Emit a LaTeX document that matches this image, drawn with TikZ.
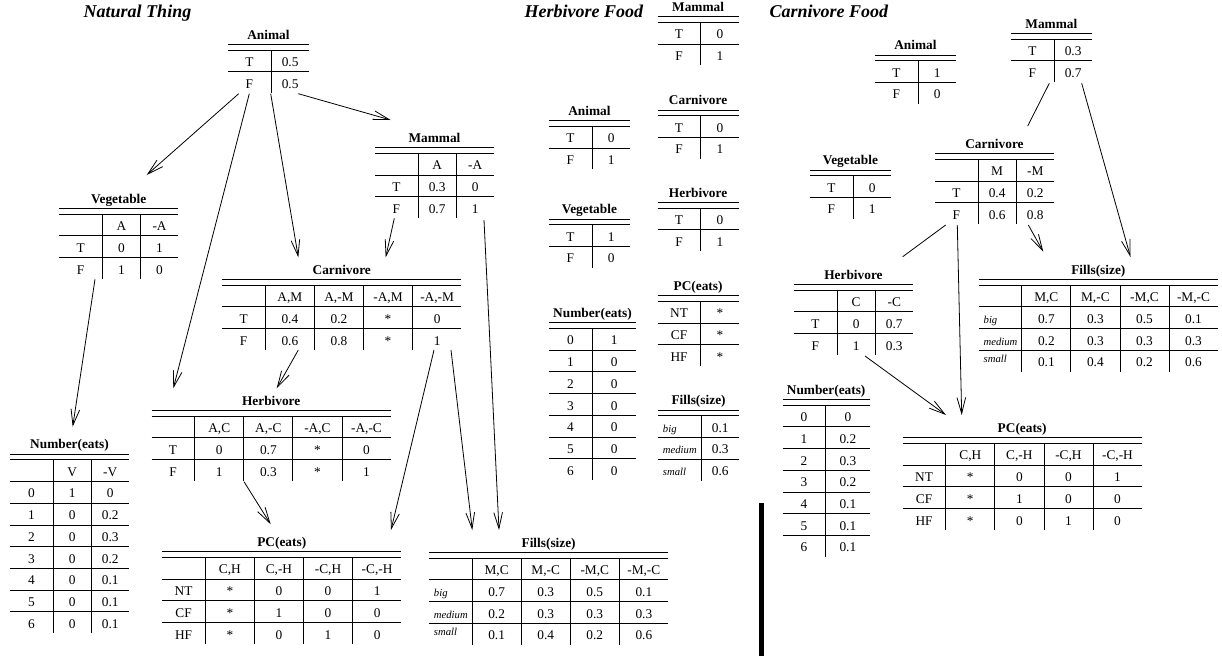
\documentclass[tikz,border=0pt]{standalone}
\usepackage{fontspec}
\setmainfont{Liberation Serif}
\usepackage{array}
\usetikzlibrary{arrows.meta,calc}
\newcolumntype{F}{w{c}{32pt}}
\newcolumntype{N}{w{c}{28pt}}
\newcolumntype{B}{w{c}{36.2pt}}
\newcolumntype{K}{w{c}{32.6pt}}
\newcolumntype{E}{>{\footnotesize\itshape\hspace*{3.5pt}}w{l}{31.8pt}}
\setlength\tabcolsep{0pt}
\setlength\arrayrulewidth{0.6pt}
\setlength\doublerulesep{3.7pt}
\setlength\extrarowheight{3.7pt}
\newcommand\ttl[2]{\multicolumn{#1}{c}{\textbf{#2}}\\\hline\hline}
\begin{document}
\begin{tikzpicture}[x=0.75pt,y=-0.75pt,
  tbl/.style={inner sep=0pt,outer sep=0pt,anchor=north west,font=\fontsize{10}{12}\selectfont},
  head/.style={inner sep=0pt,anchor=base,font=\fontsize{13.5}{16}\selectfont\bfseries\itshape},
  conn/.style={line width=0.6pt},
  arr/.style={conn,-{Straight Barb[length=12pt,width=6.5pt]}}]
\useasboundingbox (0,0) rectangle (1222,658);
% headings
\node[head] (hNT) at (137.5,17.9) {Natural Thing};
\node[head] (hHF) at (583.9,17.9) {Herbivore Food};
\node[head] (hCF) at (828.8,17.9) {Carnivore Food};
% ---------------- Natural Thing
\node[tbl] (ntAnimal) at (228,22.95) {\begin{tabular}{F|N}\ttl{2}{Animal} T & 0.5\\\hline F & 0.5\end{tabular}};
\node[tbl] (ntVeg) at (59.3,186.95) {\begin{tabular}{F|N|N}\ttl{3}{Vegetable} & A & -A\\\hline T & 0 & 1\\\hline F & 1 & 0\end{tabular}};
\node[tbl] (ntMammal) at (375,126.35) {\begin{tabular}{F|N|N}\ttl{3}{Mammal} & A & -A\\\hline T & 0.3 & 0\\\hline F & 0.7 & 1\end{tabular}};
\node[tbl] (ntCarn) at (222.3,257.95) {\begin{tabular}{F|B|B|B|B}\ttl{5}{Carnivore} & A,M & A,-M & -A,M & -A,-M\\\hline T & 0.4 & 0.2 & * & 0\\\hline F & 0.6 & 0.8 & * & 1\end{tabular}};
\node[tbl] (ntHerb) at (151.7,388.95) {\begin{tabular}{F|B|B|B|B}\ttl{5}{Herbivore} & A,C & A,-C & -A,C & -A,-C\\\hline T & 0 & 0.7 & * & 0\\\hline F & 1 & 0.3 & * & 1\end{tabular}};
\node[tbl] (ntNum) at (10,432.65) {\begin{tabular}{F|N|N}\ttl{3}{Number(eats)} & V & -V\\\hline 0 & 1 & 0\\\hline 1 & 0 & 0.2\\\hline 2 & 0 & 0.3\\\hline 3 & 0 & 0.2\\\hline 4 & 0 & 0.1\\\hline 5 & 0 & 0.1\\\hline 6 & 0 & 0.1\end{tabular}};
\node[tbl] (ntPC) at (162.3,530.35) {\begin{tabular}{F|B|B|B|B}\ttl{5}{PC(eats)} & C,H & C,-H & -C,H & -C,-H\\\hline NT & * & 0 & 0 & 1\\\hline CF & * & 1 & 0 & 0\\\hline HF & * & 0 & 1 & 0\end{tabular}};
\node[tbl] (ntFills) at (429.3,530.95) {\begin{tabular}{E|B|B|B|B}\ttl{5}{Fills(size)} & M,C & M,-C & -M,C & -M,-C\\\hline big & 0.7 & 0.3 & 0.5 & 0.1\\\hline medium & 0.2 & 0.3 & 0.3 & 0.3\\\hline \raisebox{3pt}{small} & 0.1 & 0.4 & 0.2 & 0.6\end{tabular}};
% ---------------- Herbivore Food
\node[tbl] (hfMammal) at (657.7,-4.65) {\begin{tabular}{F|N}\ttl{2}{Mammal} T & 0\\\hline F & 1\end{tabular}};
\node[tbl] (hfCarn) at (657.7,88.65) {\begin{tabular}{F|N}\ttl{2}{Carnivore} T & 0\\\hline F & 1\end{tabular}};
\node[tbl] (hfAnimal) at (549,99.35) {\begin{tabular}{F|N}\ttl{2}{Animal} T & 0\\\hline F & 1\end{tabular}};
\node[tbl] (hfHerb) at (657.7,180.95) {\begin{tabular}{F|N}\ttl{2}{Herbivore} T & 0\\\hline F & 1\end{tabular}};
\node[tbl] (hfVeg) at (549,197.65) {\begin{tabular}{F|N}\ttl{2}{Vegetable} T & 1\\\hline F & 0\end{tabular}};
\node[tbl] (hfPC) at (657.7,274.35) {\begin{tabular}{F|N}\ttl{2}{PC(eats)} NT & *\\\hline CF & *\\\hline HF & *\end{tabular}};
\node[tbl] (hfNum) at (549,301.35) {\begin{tabular}{F|K}\ttl{2}{Number(eats)} 0 & 1\\\hline 1 & 0\\\hline 2 & 0\\\hline 3 & 0\\\hline 4 & 0\\\hline 5 & 0\\\hline 6 & 0\end{tabular}};
\node[tbl] (hfFills) at (658.3,388.65) {\begin{tabular}{E|N}\ttl{2}{Fills(size)} big & 0.1\\\hline medium & 0.3\\\hline small & 0.6\end{tabular}};
% ---------------- Carnivore Food
\node[tbl] (cfAnimal) at (875,33.65) {\begin{tabular}{F|N}\ttl{2}{Animal} T & 1\\\hline F & 0\end{tabular}};
\node[tbl] (cfMammal) at (1011,11.95) {\begin{tabular}{F|N}\ttl{2}{Mammal} T & 0.3\\\hline F & 0.7\end{tabular}};
\node[tbl] (cfVeg) at (810,148.65) {\begin{tabular}{F|N}\ttl{2}{Vegetable} T & 0\\\hline F & 1\end{tabular}};
\node[tbl] (cfCarn) at (935,132.35) {\begin{tabular}{F|N|N}\ttl{3}{Carnivore} & M & -M\\\hline T & 0.4 & 0.2\\\hline F & 0.6 & 0.8\end{tabular}};
\node[tbl] (cfHerb) at (794,262.95) {\begin{tabular}{F|N|N}\ttl{3}{Herbivore} & C & -C\\\hline T & 0 & 0.7\\\hline F & 1 & 0.3\end{tabular}};
\node[tbl] (cfFills) at (979,257.95) {\begin{tabular}{E|B|B|B|B}\ttl{5}{Fills(size)} & M,C & M,-C & -M,C & -M,-C\\\hline big & 0.7 & 0.3 & 0.5 & 0.1\\\hline medium & 0.2 & 0.3 & 0.3 & 0.3\\\hline \raisebox{3pt}{small} & 0.1 & 0.4 & 0.2 & 0.6\end{tabular}};
\node[tbl] (cfNum) at (782.7,377.95) {\begin{tabular}{F|K}\ttl{2}{Number(eats)} 0 & 0\\\hline 1 & 0.2\\\hline 2 & 0.3\\\hline 3 & 0.2\\\hline 4 & 0.1\\\hline 5 & 0.1\\\hline 6 & 0.1\end{tabular}};
\node[tbl] (cfPC) at (902.7,416.35) {\begin{tabular}{F|B|B|B|B}\ttl{5}{PC(eats)} & C,H & C,-H & -C,H & -C,-H\\\hline NT & * & 0 & 0 & 1\\\hline CF & * & 1 & 0 & 0\\\hline HF & * & 0 & 1 & 0\end{tabular}};
% ---------------- connectors, Natural Thing
\draw[arr] ($(ntAnimal.north west)+(10.7,70.75)$) -- ($(ntVeg.north west)+(87.4,-11.95)$);
\draw[arr] ($(ntAnimal.north west)+(21.3,70.75)$) -- ($(ntHerb.north west)+(21.6,-0.65)$);
\draw[arr] ($(ntAnimal.north west)+(42.7,70.75)$) -- ($(ntCarn.north west)+(76,-0.65)$);
\draw[arr] ($(ntAnimal.north west)+(70.3,70.75)$) -- ($(ntMammal.north west)+(15.7,-6.35)$);
\draw[arr] ($(ntMammal.north west)+(19.3,91.95)$) -- ($(ntCarn.north west)+(163.4,-0.65)$);
\draw[arr] ($(ntVeg.north west)+(35.7,92.35)$) -- ($(ntNum.north west)+(62.7,-5.95)$);
\draw[arr] ($(ntCarn.north west)+(76,92.05)$) -- ($(ntHerb.north west)+(125,-0.65)$);
\draw[arr] ($(ntHerb.north west)+(92.3,92.75)$) -- ($(ntPC.north west)+(108.4,-6.05)$);
\draw[arr] ($(ntCarn.north west)+(211.7,92.05)$) -- ($(ntPC.north west)+(228.7,-0.35)$);
\draw[arr] ($(ntCarn.north west)+(228.7,92.05)$) -- ($(ntFills.north west)+(43,-0.95)$);
\draw[arr] ($(ntMammal.north west)+(109,93.65)$) -- ($(ntFills.north west)+(69.7,-0.95)$);
% ---------------- connectors, Carnivore Food
\draw[conn] ($(cfMammal.north west)+(38.3,71.35)$) -- ($(cfCarn.north west)+(92.7,-6.35)$);
\draw[arr] ($(cfMammal.north west)+(70.7,71.35)$) -- ($(cfFills.north west)+(151.5,-0.95)$);
\draw[arr] ($(cfCarn.north west)+(93.3,92.65)$) -- ($(cfFills.north west)+(64.3,-6.25)$);
\draw[conn] ($(cfCarn.north west)+(10.7,92.65)$) -- ($(cfHerb.north west)+(108.7,-6.25)$);
\draw[arr] ($(cfCarn.north west)+(22.3,92.65)$) -- ($(cfPC.north west)+(59,-1.35)$);
\draw[arr] ($(cfHerb.north west)+(71,93.05)$) -- ($(cfPC.north west)+(43.3,-1.35)$);
% separator bar
\fill (759,503) rectangle (763.5,656);
\end{tikzpicture}
\end{document}
